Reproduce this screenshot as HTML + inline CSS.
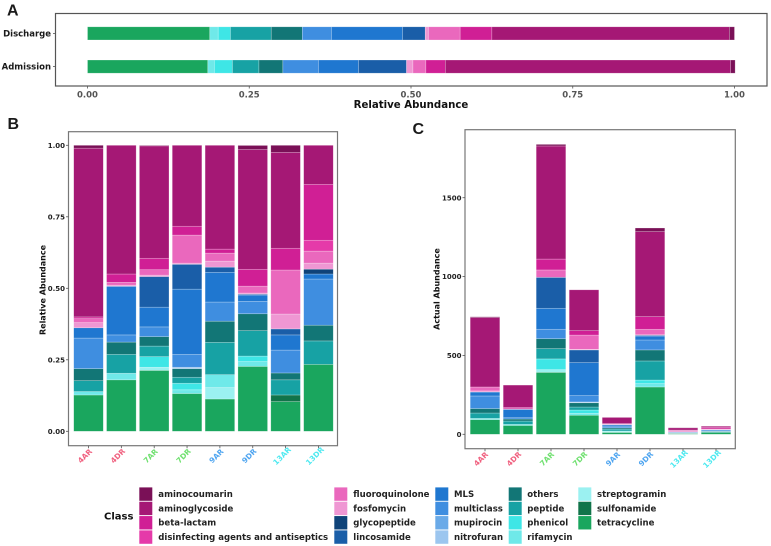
<!DOCTYPE html>
<html>
<head>
<meta charset="utf-8">
<style>
html,body{margin:0;padding:0;background:#fff;width:771px;height:546px;overflow:hidden}
svg{display:block;filter:blur(0.35px)}
text{font-family:"DejaVu Sans","Liberation Sans",sans-serif;font-weight:700}
.letter{font-family:"Liberation Sans",sans-serif;font-size:16px;fill:#1a1a1a}
</style>
</head>
<body>
<svg id="chart" xmlns="http://www.w3.org/2000/svg" width="771" height="546" viewBox="0 0 771 546">
<rect x="0" y="0" width="771" height="546" fill="#fff"/>
<text class="letter" x="7" y="15.5">A</text>
<text class="letter" x="7.5" y="129">B</text>
<text class="letter" x="412.5" y="134">C</text>
<g id="panelA"></g>
<g id="panelB"></g>
<g id="panelC"></g>
<g id="legend"></g>
</svg>
<script>
// Stack order, bottom to top / left to right
const stackClasses = ["tetracycline","sulfonamide","streptogramin","rifamycin","phenicol","peptide","others","nitrofuran","mupirocin","multiclass","MLS","lincosamide","glycopeptide","fosfomycin","fluoroquinolone","disinfecting agents and antiseptics","beta-lactam","aminoglycoside","aminocoumarin"];
const classColors = ["#1aa65e","#11744a","#9bf1f1","#6fe9e9","#3ee6e6","#17a2a4","#127676","#9cc6ef","#6aaae8","#3f8ee0","#1f77d0","#1a5ea8","#0f4379","#ef97d3","#ea68bd","#e53aa9","#d01f95","#a51875","#7a1057"];
const legendOrder = ["aminocoumarin","aminoglycoside","beta-lactam","disinfecting agents and antiseptics","fluoroquinolone","fosfomycin","glycopeptide","lincosamide","MLS","multiclass","mupirocin","nitrofuran","others","peptide","phenicol","rifamycin","streptogramin","sulfonamide","tetracycline"];

const groupsA = ["Admission","Discharge"];
//                 tet   sul strep rif   phe   pep   oth  nit mup mul   MLS   lin   gly fos   flu   dis bet   ami   coum
const admission = [.186, 0,  0,   .010, .028, .041, .037,0,  0,  .055, .062, .074, 0, .010, .020, 0, .030, .441, .007];
const discharge = [.189, 0,  0,   .013, .019, .063, .048,0,  0,  .045, .110, .035, 0, .005, .049, 0, .049, .367, .008];
const valuesA = [admission, discharge];
const ticksA = [0, 0.25, 0.5, 0.75, 1];
const tickLabelsA = ["0.00","0.25","0.50","0.75","1.00"];

const samples = ["4AR","4DR","7AR","7DR","9AR","9DR","13AR","13DR"];
const sampleColors = ["#f0607f","#f0607f","#6fe06f","#6fe06f","#4fa5f0","#4fa5f0","#4fe9f0","#4fe9f0"];

//             tet   sul   strep rif   phe   pep   oth   nit   mup mul    MLS   lin   gly   fos   flu   dis bet   ami   coum
const rel4AR  = [.127, 0,    0,    .012, 0,    .038, .042, 0,    0,  .107,  .036, 0,    0,    .018, .014, 0,  .006, .590, .010];
const rel4DR  = [.180, 0,    0,    .023, 0,    .066, .043, 0,    0,  .025,  .170, 0,    0,    .004, .010, 0,  .029, .450, 0];
const rel7AR  = [.213, 0,    .011, 0,    .037, .037, .033, 0,    0,  .034,  .069, .107, 0,    .005, .019, 0,  .040, .393, .002];
const rel7DR  = [.132, 0,    0,    .013, .023, .021, .030, .005, 0,  .045,  .228, .087, 0,    .004, .098, 0,  .031, .283, 0];
const rel9AR  = [.113, 0,    .040, .045, 0,    .113, .074, 0,    0,  .067,  .104, .018, 0,    .021, .028, 0,  .014, .363, 0];
const rel9DR  = [.227, 0,    0,    .017, .019, .089, .059, 0,    0,  .0435, .022, .003, 0,    .004, .024, 0,  .059, .419, .014];
const rel13AR = [.104, .023, 0,    0,    0,    .053, .024, 0,    0,  .080,  .053, .021, 0,    .052, .154, 0,  .076, .3355,.0245];
const rel13DR = [.234, 0,    0,    0,    0,    .082, .055, 0,    0,  .1615, .0175,0,    .017, .021, .042, .038,.1955,.1365,0];
const valuesB = [rel4AR, rel4DR, rel7AR, rel7DR, rel9AR, rel9DR, rel13AR, rel13DR];
const ticksB = [0, 0.25, 0.5, 0.75, 1];
const tickLabelsB = ["0.00","0.25","0.50","0.75","1.00"];

//             tet  sul strep rif phe pep oth nit mup mul MLS lin gly fos flu dis bet ami coum
const act4AR  = [93,  0,  0,   8,  0,  34, 28, 0,  0,  80, 25, 0,  0,  7,  25, 0,  0,  440, 5];
const act4DR  = [56,  0,  0,   7,  0,  21, 13, 0,  0,  8,  53, 0,  0,  1,  3,  0,  9,  141, 0];
const act7AR  = [393, 0,  17,  0,  68, 65, 63, 0,  0,  60, 133,196,0,  0,  47, 0,  69, 717, 10];
const act7DR  = [121, 0,  0,   12, 21, 19, 27, 5,  0,  41, 209,80, 0,  4,  90, 0,  28, 259, 0];
const act9AR  = [12,  0,  4,   5,  0,  12, 8,  0,  0,  7,  11, 2,  0,  2,  3,  0,  2,  39,  0];
const act9DR  = [300, 0,  0,   21, 23, 121,70, 0,  0,  63, 25, 5,  0,  3,  35, 0,  80, 539, 23];
const act13AR = [4.4, 1,  0,   0,  0,  2.2,1,  0,  0,  3.4,2.2,.9, 0,  2.2,6.5,0,  3.2,14.1,1];
const act13DR = [12,  0,  0,   0,  0,  4.2,2.8,0,  0,  8.2,.9, 0,  .9, 1.1,2.1,1.9,10, 7,   0];
const valuesC = [act4AR, act4DR, act7AR, act7DR, act9AR, act9DR, act13AR, act13DR];
const ticksC = [0, 500, 1000, 1500];
const tickLabelsC = ["0","500","1000","1500"];

const NS = "http://www.w3.org/2000/svg";
function make(parent, tag, attrs, text){
  const el = document.createElementNS(NS, tag);
  for (const k in attrs) el.setAttribute(k, attrs[k]);
  if (text !== undefined) el.textContent = text;
  parent.appendChild(el);
  return el;
}
function slug(s){ return s.toLowerCase().replace(/[^a-z0-9]+/g, "-"); }
function frame(parent, x0, y0, x1, y1, color){
  const r = make(parent, "rect", {x:x0, y:y0, width:x1-x0, height:y1-y0, fill:"none", stroke:color, "stroke-width":1.2});
  
  
}
function segment(parent, x, y, w, h, ci, label){
  const r = make(parent, "rect", {x:x, y:y, width:w, height:h, fill:classColors[ci], stroke:"#fff", "stroke-opacity":.4, "stroke-width":.6});
  
  
}

// Panel A
(function(){
  const g = document.getElementById("panelA");
  const xs = v => 87.5 + v * 647;
  const bandY = i => i === 0 ? 60 : 26.8;
  const barH = 13.2;
  frame(g, 55.5, 13.5, 767, 86, "#555");
  groupsA.forEach((name, i) => {
    let cum = 0;
    valuesA[i].forEach((v, ci) => {
      if (v > 0) segment(g, xs(cum), bandY(i), xs(cum + v) - xs(cum), barH, ci, "bar-" + slug(name) + "-" + slug(stackClasses[ci]));
      cum += v;
    });
    const cy = bandY(i) + barH / 2;
    const t = make(g, "line", {x1:53, x2:55.5, y1:cy, y2:cy, stroke:"#555", "stroke-width":.8});
    
    
    const l = make(g, "text", {x:51, y:cy + 3, "text-anchor":"end", "font-size":8.5, fill:"#1a1a1a"}, name);
    
    
  });
  ticksA.forEach((v, i) => {
    const x = xs(v);
    const t = make(g, "line", {x1:x, x2:x, y1:86, y2:88.5, stroke:"#555", "stroke-width":.8});
    
    
    const l = make(g, "text", {x:x, y:97.5, "text-anchor":"middle", "font-size":8.5, fill:"#555"}, tickLabelsA[i]);
    
    
  });
  const title = make(g, "text", {x:411, y:108, "text-anchor":"middle", "font-size":10.2, fill:"#111"}, "Relative Abundance");
  
  
})();

function columnPanel(gid, values, ticks, tickLabels, ys, box, x0, step, title, titleX, titleY, labelOffX, labelY){
  const g = document.getElementById(gid);
  const barW = 29.6;
  frame(g, box[0], box[1], box[2], box[3], "#777");
  samples.forEach((name, i) => {
    const cx = x0 + i * step;
    let cum = 0;
    values[i].forEach((v, ci) => {
      if (v > 0) segment(g, cx - barW / 2, ys(cum + v), barW, ys(cum) - ys(cum + v), ci, "bar-" + slug(name) + "-" + slug(stackClasses[ci]));
      cum += v;
    });
    const t = make(g, "line", {x1:cx, x2:cx, y1:box[3], y2:box[3] + 2.5, stroke:"#555", "stroke-width":.8});
    
    
    const lx = cx + labelOffX;
    const l = make(g, "text", {x:lx, y:labelY + 2.5, "text-anchor":"middle", "font-size":7.4, fill:sampleColors[i], transform:"rotate(-45 " + lx + " " + labelY + ")"}, name);
    
    
  });
  ticks.forEach((v, i) => {
    const y = ys(v);
    const t = make(g, "line", {x1:box[0] - 2.5, x2:box[0], y1:y, y2:y, stroke:"#555", "stroke-width":.8});
    
    
    const l = make(g, "text", {x:box[0] - 3.5, y:y + 2.6, "text-anchor":"end", "font-size":7, fill:"#222"}, tickLabels[i]);
    
    
  });
  const yt = make(g, "text", {x:titleX, y:titleY, "text-anchor":"middle", "font-size":8, fill:"#111", transform:"rotate(-90 " + titleX + " " + titleY + ")"}, title);
  
  
}
columnPanel("panelB", valuesB, ticksB, tickLabelsB, v => 431.3 - v * 286, [68.5,131.7,337.5,445.7], 88.5, 32.85, "Relative Abundance", 45.5, 290, -3.5, 456);
columnPanel("panelC", valuesC, ticksC, tickLabelsC, v => 434.3 - v * 0.15773, [465,129.7,735.3,448.7], 485, 33, "Actual Abundance", 439.5, 289, -4, 459);

// Legend
(function(){
  const g = document.getElementById("legend");
  const colX = [139.3, 334.3, 435.3, 508.7, 578.3];
  const textX = [158.3, 353.3, 454, 527.3, 597];
  const rowsPerCol = 4;
  const cl = make(g, "text", {x:104, y:519.5, "font-size":10, fill:"#111"}, "Class");
  
  
  legendOrder.forEach((name, i) => {
    const c = Math.floor(i / rowsPerCol), r = i % rowsPerCol;
    const y = 487.4 + r * 14.33;
    const ci = stackClasses.indexOf(name);
    const s = make(g, "rect", {x:colX[c], y:y, width:13, height:13.4, fill:classColors[ci]});
    
    
    const t = make(g, "text", {x:textX[c], y:y + 9.6, "font-size":8.55, fill:"#222"}, name);
    
    
  });
})();
</script>
</body>
</html>
